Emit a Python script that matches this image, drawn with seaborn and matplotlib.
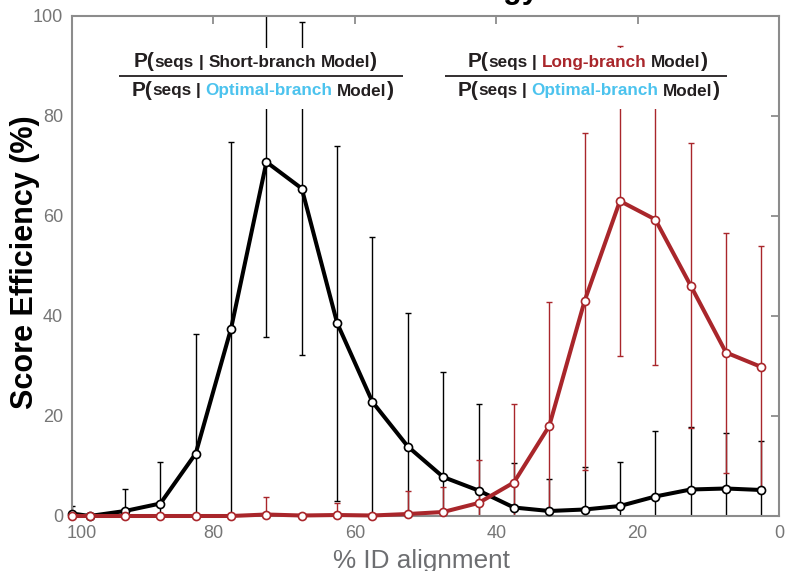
import matplotlib
matplotlib.use("Agg")
import matplotlib.pyplot as plt
import seaborn as sns
from matplotlib.patches import Rectangle
from matplotlib.offsetbox import TextArea, HPacker, DrawingArea, AnnotationBbox

# Percent identity of the alignment bins
identity = [100, 97.5, 92.5, 87.5, 82.5, 77.5, 72.5, 67.5, 62.5, 57.5, 52.5,
            47.5, 42.5, 37.5, 32.5, 27.5, 22.5, 17.5, 12.5, 7.5, 2.5]

# Short-branch vs optimal-branch score efficiency (mean, sd)
short_mean = [0.5, 0.0, 1.0, 2.5, 12.5, 37.5, 70.8, 65.5, 38.6, 22.8, 13.9,
              7.8, 5.1, 1.7, 1.0, 1.3, 2.0, 3.9, 5.3, 5.5, 5.2]
short_sd = [1.5, 0.0, 4.5, 8.4, 24.0, 37.4, 34.9, 33.3, 35.5, 33.0, 26.8,
            21.0, 17.3, 9.0, 6.5, 8.5, 8.8, 13.2, 12.5, 11.2, 9.9]

# Long-branch vs optimal-branch score efficiency (mean, sd)
long_mean = [0.0, 0.0, 0.0, 0.0, 0.0, 0.0, 0.3, 0.1, 0.2, 0.1, 0.4,
             0.8, 2.6, 6.7, 18.0, 43.0, 63.0, 59.3, 46.1, 32.7, 29.8]
long_sd = [0.0, 0.0, 0.0, 0.0, 0.0, 0.0, 3.5, 0.4, 2.5, 0.3, 4.6,
           5.1, 8.7, 15.7, 24.8, 33.7, 31.0, 29.1, 28.5, 24.0, 24.3]

x_ticks = [100, 80, 60, 40, 20, 0]
y_ticks = [0, 20, 40, 60, 80, 100]

FONT = "Liberation Sans"
INK = "#231f20"
RED = "#a9262b"
CYAN = "#4cc3ee"
SPINE = "#8c8c8c"
TICKTXT = "#767676"

sns.set_style("white")
plt.rcParams["font.family"] = [FONT, "DejaVu Sans"]

fig = plt.figure(figsize=(7.86, 5.71), dpi=100)
ax = fig.add_axes([72 / 786, 1 - 516 / 571, 707 / 786, 500 / 571])

# error bars (clipped at the frame)
ax.errorbar(identity, short_mean, yerr=short_sd, fmt="none", ecolor="black",
            elinewidth=1.0, capsize=2.2, capthick=1.0, zorder=2)
ax.errorbar(identity, long_mean, yerr=long_sd, fmt="none", ecolor=RED,
            elinewidth=1.0, capsize=2.2, capthick=1.0, zorder=2.5)

# mean curves with open markers
sns.lineplot(x=identity, y=short_mean, color="black", lw=2.9, marker="o",
             markersize=5.8, markerfacecolor="white", markeredgecolor="black",
             markeredgewidth=1.2, sort=False, ax=ax, clip_on=False, zorder=4)
sns.lineplot(x=identity, y=long_mean, color=RED, lw=2.9, marker="o",
             markersize=5.8, markerfacecolor="white", markeredgecolor=RED,
             markeredgewidth=1.2, sort=False, ax=ax, clip_on=False, zorder=5)

ax.set_xlim(100, 0)
ax.set_ylim(0, 100)
ax.set_xticks(x_ticks)
ax.set_yticks(y_ticks)
ax.set_xticklabels(["" if t == 100 else str(t) for t in x_ticks])
ax.set_yticklabels([str(t) for t in y_ticks])

for s in ax.spines.values():
    s.set_color(SPINE)
    s.set_linewidth(1.5)
ax.tick_params(direction="in", length=6, width=1.3, color=SPINE,
               labelcolor=TICKTXT, labelsize=13, top=True, right=True,
               labeltop=False, labelright=False, pad=6.5)
ax.annotate("100", xy=(100, 0), xycoords=("data", "axes fraction"),
            xytext=(7, -6.5), textcoords="offset points", ha="center",
            va="top", fontsize=13, color=TICKTXT)

ax.set_xlabel("% ID alignment", fontsize=18.8, color="#6d6e71")
ax.xaxis.set_label_coords(0.4946, -0.1046)
ax.xaxis.label.set_va("baseline")
ax.set_ylabel("Score Efficiency (%)", fontsize=22, fontweight="bold",
              color="black", va="center")
ax.yaxis.set_label_coords(-0.0665, 0.507)

# title sits above the top edge; only its descenders reach the canvas
fig.text(539 / 786, 1 + 2 / 571, "Branch Strategy", ha="right",
         va="baseline", fontsize=22, fontweight="bold", color="black")

# likelihood-ratio legends drawn as stacked fractions
def prob_row(model, model_color):
    big = dict(fontsize=15, fontweight="bold", color=INK, family=FONT)
    small = dict(fontsize=12.3, fontweight="bold", color=INK, family=FONT)
    colored = dict(small, color=model_color)

    def gap():
        return DrawingArea(3.4, 0)

    parts = [TextArea("P(", textprops=big), TextArea("seqs", textprops=small),
             gap(), TextArea("|", textprops=small), gap(),
             TextArea(model, textprops=colored), gap(),
             TextArea("Model", textprops=small), TextArea(")", textprops=big)]
    return HPacker(children=parts, sep=0, pad=0, align="baseline")


def fraction(top_model, top_color, xc_top, xc_bot, x0, x1, box):
    ax.add_patch(Rectangle((box[0], box[1]), box[2] - box[0], box[3] - box[1],
                           transform=ax.transAxes, facecolor="white",
                           edgecolor="none", zorder=6, clip_on=False))
    ax.add_artist(AnnotationBbox(prob_row(top_model, top_color), (xc_top, 0.9086),
                                 xycoords="axes fraction", frameon=False,
                                 box_alignment=(0.5, 0.5), pad=0, zorder=7))
    ax.add_artist(AnnotationBbox(prob_row("Optimal-branch", CYAN), (xc_bot, 0.852),
                                 xycoords="axes fraction", frameon=False,
                                 box_alignment=(0.5, 0.5), pad=0, zorder=7))
    ax.plot([x0, x1], [0.88, 0.88], transform=ax.transAxes, color=INK,
            lw=1.3, zorder=7, clip_on=False, solid_capstyle="butt")


fraction("Short-branch", INK, 0.2595, 0.2694, 0.0665, 0.4682,
         (0.0608, 0.814, 0.471, 0.936))
fraction("Long-branch", RED, 0.729, 0.7306, 0.5276, 0.9264,
         (0.5205, 0.814, 0.9335, 0.936))

fig.savefig("out.png", dpi=100)
